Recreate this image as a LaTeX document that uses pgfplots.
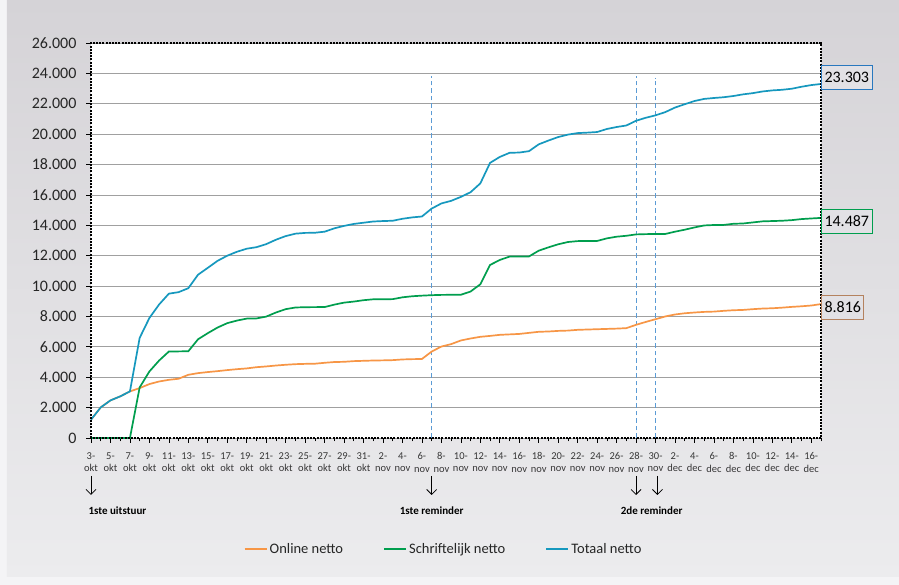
\documentclass[border=0pt]{standalone}
\usepackage{fontspec}
\setmainfont{Carlito}
\usepackage{pgfplots}
\pgfplotsset{compat=1.18}
\usetikzlibrary{arrows.meta}
\definecolor{cOnline}{RGB}{247,150,70}
\definecolor{cSchrift}{RGB}{0,158,78}
\definecolor{cTot}{RGB}{22,152,190}
\definecolor{cDash}{RGB}{91,155,213}
\definecolor{bgTop}{RGB}{213,211,215}
\definecolor{bgBot}{RGB}{236,236,238}
\definecolor{outerbg}{RGB}{244,244,246}
\definecolor{boxfill}{RGB}{226,225,229}
\definecolor{boxOr}{RGB}{180,130,95}
\definecolor{boxBl}{RGB}{40,120,190}
\definecolor{gridc}{RGB}{160,160,160}
\definecolor{ticklab}{RGB}{55,55,55}
\tikzset{annarrow/.style={-{Straight Barb[length=5pt,width=10pt]}, line width=0.8pt}}
\begin{document}
\begin{tikzpicture}[x=1pt,y=1pt]
\fill[outerbg] (-91,-147) rectangle (808,438);
\shade[top color=bgTop, bottom color=bgBot] (-84,-139) rectangle (808,438);
\begin{axis}[
  scale only axis, width=730pt, height=395pt, at={(0,0)}, anchor=south west,
  xmin=0, xmax=75, ymin=0, ymax=26000,
  clip=false,
  axis background/.style={fill=white},
  axis line style={draw=none},
  every tick/.style={black, solid, line width=0.7pt},
  tick align=outside,
  xtick pos=bottom, ytick pos=left,
  major tick length=5pt, minor tick length=3.5pt,
  xtick={0,2,...,74}, minor xtick={1,3,...,75},
  xticklabels={{3-\\okt},{5-\\okt},{7-\\okt},{9-\\okt},{11-\\okt},{13-\\okt},{15-\\okt},{17-\\okt},{19-\\okt},{21-\\okt},{23-\\okt},{25-\\okt},{27-\\okt},{29-\\okt},{31-\\okt},{2-\\nov},{4-\\nov},{6-\\nov},{8-\\nov},{10-\\nov},{12-\\nov},{14-\\nov},{16-\\nov},{18-\\nov},{20-\\nov},{22-\\nov},{24-\\nov},{26-\\nov},{28-\\nov},{30-\\nov},{2-\\dec},{4-\\dec},{6-\\dec},{8-\\dec},{10-\\dec},{12-\\dec},{14-\\dec},{16-\\dec}},
  xticklabel style={align=center, font=\fontsize{10.5}{12.5}\selectfont, text=ticklab, yshift=-6pt},
  ytick={0,2000,...,26000},
  scaled y ticks=false,
  yticklabel style={font=\fontsize{16}{19}\selectfont, text=black!85, xshift=-6pt, /pgf/number format/1000 sep={.}, /pgf/number format/assume math mode=true},
  ymajorgrids, major grid style={gridc, line width=0.8pt, solid},
  legend style={at={(0.483,-0.281)}, anchor=center, draw=none, fill=none,
    font=\fontsize{14.5}{16}\selectfont, text=black!85,
    /tikz/every even column/.append style={column sep=38pt}},
  legend columns=3,
  legend image code/.code={\draw[#1, line width=2pt] (0pt,0pt) -- (22pt,0pt);},
]
\addplot[forget plot, cDash, line width=1.1pt, dash pattern=on 4.5pt off 3pt] coordinates {(35,0) (35,23800)};
\addplot[forget plot, cDash, line width=1.1pt, dash pattern=on 4.5pt off 3pt] coordinates {(56,0) (56,23800)};
\addplot[forget plot, cDash, line width=1.1pt, dash pattern=on 4.5pt off 3pt] coordinates {(58,0) (58,23700)};

\addplot[cOnline, line width=1.7pt] coordinates {
(0,1205) (1,2015) (2,2475) (3,2740) (4,3066) (5,3285) (6,3550) (7,3720) (8,3830) (9,3900)
(10,4160) (11,4270) (12,4340) (13,4400) (14,4470) (15,4530) (16,4580) (17,4660) (18,4710) (19,4770)
(20,4820) (21,4860) (22,4880) (23,4890) (24,4950) (25,5000) (26,5015) (27,5060) (28,5080) (29,5100)
(30,5110) (31,5125) (32,5170) (33,5190) (34,5200) (35,5690) (36,6020) (37,6180) (38,6420) (39,6550)
(40,6660) (41,6720) (42,6790) (43,6820) (44,6850) (45,6920) (46,6990) (47,7010) (48,7050) (49,7070)
(50,7120) (51,7140) (52,7160) (53,7180) (54,7200) (55,7230) (56,7450) (57,7640) (58,7820) (59,8000)
(60,8130) (61,8210) (62,8260) (63,8300) (64,8320) (65,8370) (66,8410) (67,8430) (68,8480) (69,8520)
(70,8540) (71,8580) (72,8630) (73,8670) (74,8720) (75,8816)};
\addlegendentry{Online netto}

\addplot[cSchrift, line width=1.7pt] coordinates {
(0,0) (1,0) (2,0) (3,0) (4,0) (5,3330) (6,4380) (7,5100) (8,5690) (9,5700)
(10,5710) (11,6500) (12,6900) (13,7270) (14,7560) (15,7730) (16,7860) (17,7870) (18,7990) (19,8260)
(20,8480) (21,8590) (22,8610) (23,8615) (24,8620) (25,8780) (26,8910) (27,8980) (28,9070) (29,9130)
(30,9135) (31,9140) (32,9260) (33,9330) (34,9370) (35,9400) (36,9420) (37,9425) (38,9430) (39,9640)
(40,10120) (41,11390) (42,11720) (43,11940) (44,11945) (45,11950) (46,12330) (47,12550) (48,12750) (49,12900)
(50,12960) (51,12965) (52,12970) (53,13140) (54,13250) (55,13310) (56,13400) (57,13420) (58,13425) (59,13430)
(60,13580) (61,13710) (62,13860) (63,13990) (64,14020) (65,14025) (66,14100) (67,14120) (68,14190) (69,14260)
(70,14280) (71,14300) (72,14340) (73,14410) (74,14450) (75,14487)};
\addlegendentry{Schriftelijk netto}

\addplot[cTot, line width=1.7pt] coordinates {
(0,1205) (1,2015) (2,2475) (3,2740) (4,3066) (5,6590) (6,7900) (7,8790) (8,9500) (9,9600)
(10,9860) (11,10750) (12,11200) (13,11660) (14,12000) (15,12260) (16,12460) (17,12560) (18,12760) (19,13050)
(20,13290) (21,13450) (22,13500) (23,13510) (24,13580) (25,13800) (26,13960) (27,14090) (28,14170) (29,14250)
(30,14280) (31,14300) (32,14430) (33,14520) (34,14580) (35,15100) (36,15440) (37,15610) (38,15870) (39,16180)
(40,16760) (41,18110) (42,18500) (43,18770) (44,18790) (45,18880) (46,19330) (47,19580) (48,19810) (49,19970)
(50,20070) (51,20100) (52,20140) (53,20340) (54,20470) (55,20570) (56,20880) (57,21080) (58,21240) (59,21450)
(60,21750) (61,21970) (62,22180) (63,22320) (64,22380) (65,22430) (66,22510) (67,22620) (68,22700) (69,22810)
(70,22880) (71,22920) (72,22990) (73,23120) (74,23230) (75,23303)};
\addlegendentry{Totaal netto}

% annotation arrows
\draw[annarrow] ([yshift=-38pt]axis cs:0,0) -- ([yshift=-57pt]axis cs:0,0);
\draw[annarrow] ([yshift=-38pt]axis cs:35,0) -- ([yshift=-57pt]axis cs:35,0);
\draw[annarrow] ([yshift=-38pt]axis cs:56,0) -- ([yshift=-57pt]axis cs:56,0);
\draw[annarrow] ([yshift=-38pt]axis cs:58.2,0) -- ([yshift=-57pt]axis cs:58.2,0);
\node[anchor=west, font=\bfseries\fontsize{11}{13}\selectfont] at ([shift={(-6pt,-73pt)}]axis cs:0,0) {1ste uitstuur};
\node[font=\bfseries\fontsize{11}{13}\selectfont] at ([yshift=-73pt]axis cs:35,0) {1ste reminder};
\node[font=\bfseries\fontsize{11}{13}\selectfont] at ([yshift=-73pt]axis cs:57.6,0) {2de reminder};
\coordinate (lblT) at (axis cs:75,23730);
\coordinate (lblS) at (axis cs:75,14283);
\coordinate (lblO) at (axis cs:75,8622);
\end{axis}
% plot-area border (dotted, as in the reference)
\draw[black, line width=2.4pt, dash pattern=on 2pt off 1.2pt] (0,0) rectangle (730,395);
% data labels
\node[draw=boxBl, fill=boxfill, line width=1pt, anchor=west, inner xsep=3pt, minimum height=24pt, font=\fontsize{16}{19}\selectfont] at (lblT) {23.303};
\node[draw=cSchrift, fill=boxfill, line width=1pt, anchor=west, inner xsep=3pt, minimum height=24pt, font=\fontsize{16}{19}\selectfont] at (lblS) {14.487};
\node[draw=boxOr, fill=boxfill, line width=1pt, anchor=west, inner xsep=3pt, minimum height=24pt, font=\fontsize{16}{19}\selectfont] at (lblO) {8.816};
\pgfresetboundingbox
\path (-91,-147) rectangle (808,438);
\end{tikzpicture}
\end{document}
